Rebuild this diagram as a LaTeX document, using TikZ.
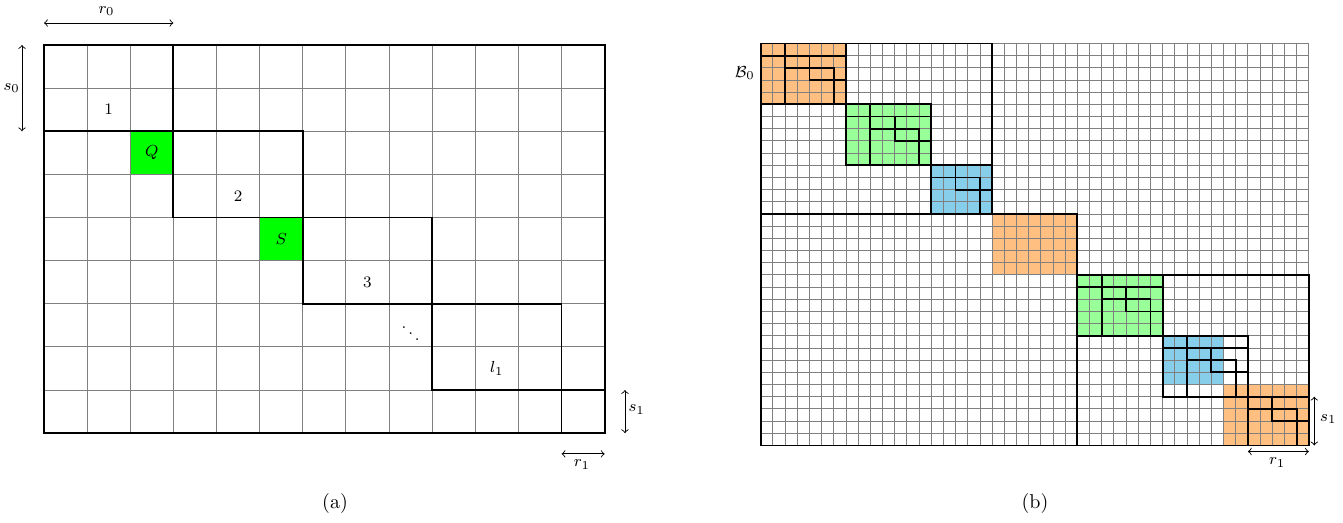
\documentclass[tikz,border=0pt]{standalone}
\usepackage{amsmath,amssymb}
\definecolor{qgreen}{rgb}{0,1,0}
\definecolor{borange}{RGB}{255,191,128}
\definecolor{bgreen}{RGB}{153,255,153}
\definecolor{bblue}{RGB}{135,206,235}
\tikzset{
  gridline/.style={draw=gray, line width=0.45pt},
  blockline/.style={draw=black, line width=0.9pt},
  dimarrow/.style={<->, line width=0.45pt},
  lbl/.style={font=\footnotesize, inner sep=1pt},
  tmpl/.pic={
    \draw[blockline] (0,1)--(7,1);
    \draw[blockline] (2,0)--(2,5);
    \draw[blockline] (4,1)--(4,3)--(7,3);
    \draw[blockline] (2,2)--(6,2)--(6,5);
  }
}
\begin{document}
\begin{tikzpicture}[x=0.5pt,y=-0.5pt]
\useasboundingbox (0,0) rectangle (1343,523);
% ---------------- left panel ----------------
\begin{scope}[shift={(22pt,-22.5pt)}, x=21.565pt, y=-21.565pt]
  \fill[qgreen] (2,2) rectangle (3,3);
  \fill[qgreen] (5,4) rectangle (6,5);
  \foreach \i in {1,...,12} \draw[gridline] (\i,0) -- (\i,9);
  \foreach \j in {1,...,8} \draw[gridline] (0,\j) -- (13,\j);
  \draw[blockline] (0,0) rectangle (13,9);
  \draw[blockline] (0,0) rectangle (3,2);
  \draw[blockline] (3,2) rectangle (6,4);
  \draw[blockline] (6,4) rectangle (9,6);
  \draw[blockline] (9,6) rectangle (12,8);
  \draw[blockline] (12,8) rectangle (13,9);
  \node[lbl] (l1) at (1.5,1.5) {$1$};
  \node[lbl] (l2) at (4.5,3.5) {$2$};
  \node[lbl] (l3) at (7.5,5.5) {$3$};
  \node[lbl] (ldots) at (8.5,6.55) {$\ddots$};
  \node[lbl] (lL) at (10.5,7.5) {$l_1$};
  \node[lbl] (lQ) at (2.5,2.5) {$Q$};
  \node[lbl] (lS) at (5.5,4.5) {$S$};
  % dimensions
  \coordinate (r0a) at (0,-0.51);
  \coordinate (r0b) at (3,-0.51);
  \draw[dimarrow] (r0a) -- (r0b);
  \node[lbl] (r0l) at (1.45,-0.78) {$r_0$};
  \coordinate (s0a) at (-0.51,0);
  \coordinate (s0b) at (-0.51,2);
  \draw[dimarrow] (s0a) -- (s0b);
  \node[lbl] (s0l) at (-0.75,1.0) {$s_0$};
  \coordinate (s1a) at (13.47,8);
  \coordinate (s1b) at (13.47,9);
  \draw[dimarrow] (s1a) -- (s1b);
  \node[lbl] (s1l) at (13.74,8.45) {$s_1$};
  \coordinate (r1a) at (12,9.48);
  \coordinate (r1b) at (13,9.48);
  \draw[dimarrow] (r1a) -- (r1b);
  \node[lbl] (r1l) at (12.47,9.73) {$r_1$};
\end{scope}
% ---------------- right panel ----------------
\begin{scope}[shift={(380.35pt,-21.75pt)}, x=6.09pt, y=-6.09pt]
  \fill[borange] (0,0) rectangle (7,5);
  \fill[bgreen] (7,5) rectangle (14,10);
  \fill[bblue] (14,10) rectangle (19,14);
  \fill[borange] (19,14) rectangle (26,19);
  \fill[bgreen] (26,19) rectangle (33,24);
  \fill[bblue] (33,24) rectangle (38,28);
  \fill[borange] (38,28) rectangle (45,33);
  \foreach \i in {0,...,45} \draw[gridline] (\i,0) -- (\i,33);
  \foreach \j in {0,...,33} \draw[gridline] (0,\j) -- (45,\j);
  % big blocks
  \draw[blockline] (0,0) rectangle (19,14);
  \draw[blockline] (0,14) rectangle (26,33);
  \draw[blockline] (26,19) rectangle (45,33);
  % block outlines
  \draw[blockline] (0,0) rectangle (7,5);
  \draw[blockline] (7,5) rectangle (14,10);
  \draw[blockline] (14,10) rectangle (19,14);
  \draw[blockline] (26,19) rectangle (33,24);
  \draw[blockline] (33,24) rectangle (40,29);
  % inner staircases
  \pic at (0,0) {tmpl};
  \pic at (7,5) {tmpl};
  \pic at (26,19) {tmpl};
  \pic at (33,24) {tmpl};
  \pic at (38,28) {tmpl};
  \begin{scope}
    \clip (14,10) rectangle (19,14);
    \pic at (12,9) {tmpl};
  \end{scope}
  % labels
  \node[lbl] (b0) at (-1.3,2.42) {$\mathcal{B}_0$};
  \coordinate (s1ra) at (45.45,29);
  \coordinate (s1rb) at (45.45,33);
  \draw[dimarrow] (s1ra) -- (s1rb);
  \node[lbl] (s1rl) at (46.6,30.85) {$s_1$};
  \coordinate (r1ra) at (40,33.5);
  \coordinate (r1rb) at (45,33.5);
  \draw[dimarrow] (r1ra) -- (r1rb);
  \node[lbl] (r1rl) at (42.4,34.4) {$r_1$};
\end{scope}
\node (capa) at (335,503) {(a)};
\node (capb) at (1035,503) {(b)};
\end{tikzpicture}
\end{document}
